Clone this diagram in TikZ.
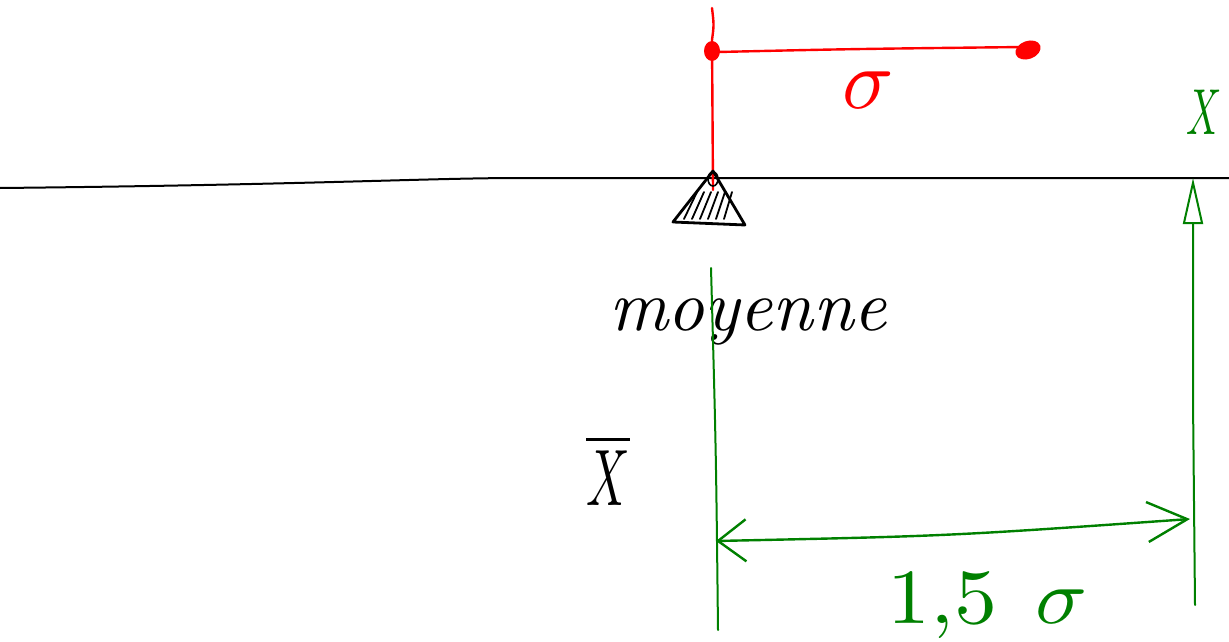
\documentclass[tikz,border=0pt]{standalone}
\usepackage{amsmath,amssymb}
\usepackage{tikz}
\usetikzlibrary{arrows.meta}
\definecolor{penred}{RGB}{255,0,0}
\definecolor{pengreen}{RGB}{0,128,0}
\newcommand{\bigtxt}[2]{\scalebox{#1}{#2}}
\tikzset{pen/.style={line width=2.4pt,line cap=round,line join=round},
  handtext/.style={inner sep=0pt}}

\begin{document}
\begin{tikzpicture}[x=1pt,y=-1pt]
\useasboundingbox (0,0) rectangle (1229,642);
\draw[pen,line width=2pt] (0,188) .. controls (300,185) and (430,178) .. (520,178) -- (1229,178);
\draw[pen,penred] (712,8) .. controls (714,25) .. (712,40) -- (713,190);
\draw[pen,penred] (718,52) .. controls (850,49) .. (1024,47);
\fill[penred] (712,51) ellipse[x radius=8,y radius=10];
\fill[penred,rotate around={20:(1028,50)}] (1028,50) ellipse[x radius=13,y radius=9];
\node[handtext,penred] (sig) at (868,90) {\bigtxt{8.5}{$\sigma$}};
\draw[pen,line width=2.8pt] (713,171) -- (673,222) -- (745,225) -- cycle;
\draw[line width=1.6pt] (713,179) ellipse[x radius=5,y radius=7];
\foreach \a in {0,...,5} \draw[pen,line width=1.8pt] ({684+8*\a},219) -- ({697+7*\a},192);
\node[handtext] (moy) at (748,322) {\bigtxt{7.2}{\itshape moyenne}};
\node[handtext] (xbar) at (608,470) {\scalebox{4.8}[8]{$\overline{X}$}};
\draw[pen,pengreen,line width=2pt] (711,268) .. controls (716,450) .. (718,630);
\coordinate (top) at (1193,178);
\coordinate (foot) at (1195,605);
\draw[pen,pengreen,line width=2pt,-{Triangle[open,length=46pt,width=20pt]}] (foot) -- (1193,400) -- (top);
\node[handtext,pengreen] (xval) at (1204,112) {\scalebox{3.9}[6.5]{$X$}};
\coordinate (mleft) at (716,541);
\coordinate (mright) at (1190,519);
\draw[pen,pengreen,{Straight Barb[length=28pt,width=42pt]}-{Straight Barb[length=40pt,width=40pt]}] (mleft) .. controls (950,536) .. (mright);
\node[handtext,pengreen] (dist) at (988,606) {\scalebox{8.6}[7.8]{$1{,}5\;\,\sigma$}};
\end{tikzpicture}
\end{document}
